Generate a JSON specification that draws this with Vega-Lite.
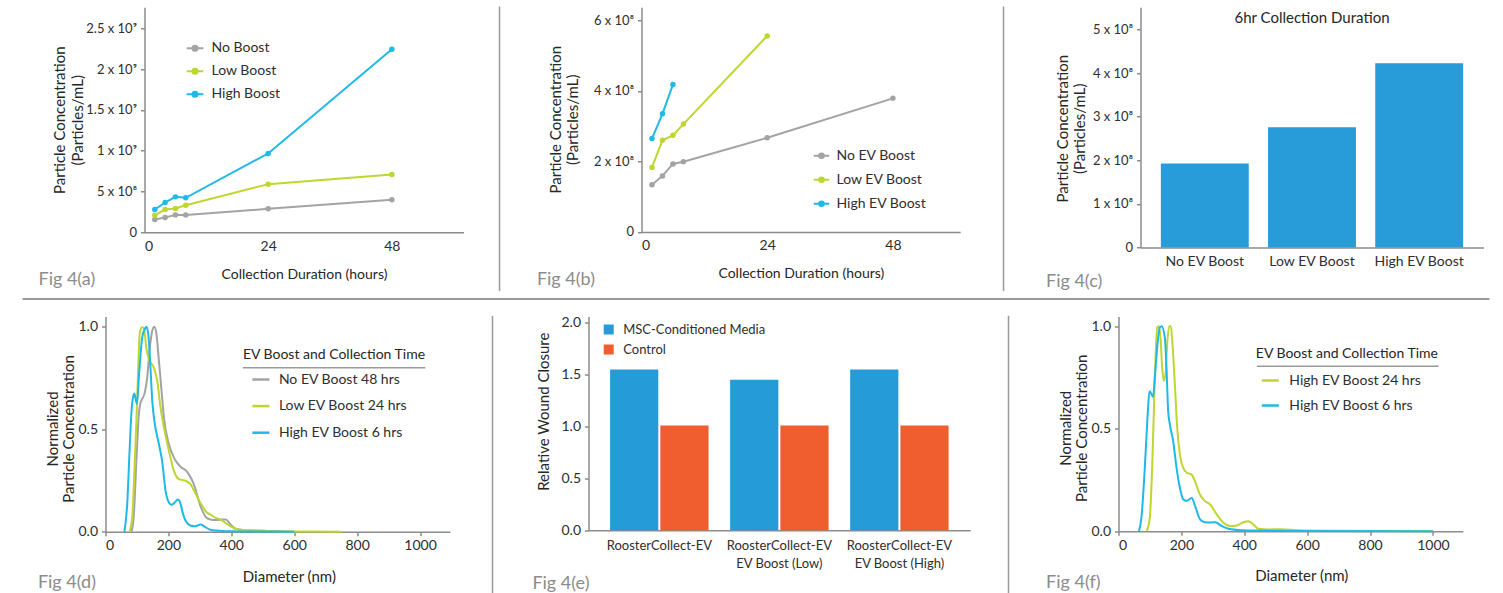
{
  "$schema": "https://vega.github.io/schema/vega-lite/v6.json",
  "padding": {"left": 22.5, "top": 6.25, "right": 5, "bottom": 0},
  "autosize": {"type": "pad"},
  "spacing": 6.75,
  "resolve": {"scale": {"color": "independent"}, "legend": {"color": "independent"}},
  "config": {
    "view": {"stroke": null},
    "font": "Lato",
    "axis": {"labelFont": "Lato", "titleFont": "Lato", "labelFontSize": 14, "titleFontSize": 15, "titleFontWeight": "normal", "labelColor": "#2e2e2e", "titleColor": "#262626", "domainColor": "#8c8c8c", "domainWidth": 1.5, "tickColor": "#8c8c8c", "tickWidth": 1.5, "tickSize": 4, "grid": false, "labelPadding": 4},
    "legend": {"labelFont": "Lato", "titleFont": "Lato", "labelFontSize": 14, "labelColor": "#2e2e2e", "titleColor": "#262626", "titleFontWeight": "normal", "titleFontSize": 14, "padding": 0, "titleLimit": 400, "labelLimit": 300},
    "title": {"font": "Lato", "fontWeight": "normal"}
  },
  "datasets": {
    "growthA": [
      {"series": "No Boost", "hours": 2, "conc": 156000000}, {"series": "No Boost", "hours": 4, "conc": 180000000}, {"series": "No Boost", "hours": 6, "conc": 213000000}, {"series": "No Boost", "hours": 8, "conc": 213000000}, {"series": "No Boost", "hours": 24, "conc": 287000000}, {"series": "No Boost", "hours": 48, "conc": 400000000},
      {"series": "Low Boost", "hours": 2, "conc": 209000000}, {"series": "Low Boost", "hours": 4, "conc": 279000000}, {"series": "Low Boost", "hours": 6, "conc": 291000000}, {"series": "Low Boost", "hours": 8, "conc": 332000000}, {"series": "Low Boost", "hours": 24, "conc": 590000000}, {"series": "Low Boost", "hours": 48, "conc": 709000000},
      {"series": "High Boost", "hours": 2, "conc": 279000000}, {"series": "High Boost", "hours": 4, "conc": 365000000}, {"series": "High Boost", "hours": 6, "conc": 434000000}, {"series": "High Boost", "hours": 8, "conc": 422000000}, {"series": "High Boost", "hours": 24, "conc": 967000000}, {"series": "High Boost", "hours": 48, "conc": 2246000000}
    ],
    "growthB": [
      {"series": "No EV Boost", "hours": 2, "conc": 134000000}, {"series": "No EV Boost", "hours": 4, "conc": 159000000}, {"series": "No EV Boost", "hours": 6, "conc": 193000000}, {"series": "No EV Boost", "hours": 8, "conc": 199000000}, {"series": "No EV Boost", "hours": 24, "conc": 267000000}, {"series": "No EV Boost", "hours": 48, "conc": 379000000},
      {"series": "Low EV Boost", "hours": 2, "conc": 183000000}, {"series": "Low EV Boost", "hours": 4, "conc": 260000000}, {"series": "Low EV Boost", "hours": 6, "conc": 274000000}, {"series": "Low EV Boost", "hours": 8, "conc": 306000000}, {"series": "Low EV Boost", "hours": 24, "conc": 556000000},
      {"series": "High EV Boost", "hours": 2, "conc": 265000000}, {"series": "High EV Boost", "hours": 4, "conc": 335000000}, {"series": "High EV Boost", "hours": 6, "conc": 418000000}
    ],
    "sixHour": [
      {"group": "No EV Boost", "conc": 192700000}, {"group": "Low EV Boost", "conc": 276000000}, {"group": "High EV Boost", "conc": 422700000}
    ],
    "ntaD": [
      {"series": "No EV Boost 48 hrs", "d": 83, "v": 0}, {"series": "No EV Boost 48 hrs", "d": 90, "v": 0.08}, {"series": "No EV Boost 48 hrs", "d": 98.7, "v": 0.362}, {"series": "No EV Boost 48 hrs", "d": 106, "v": 0.573}, {"series": "No EV Boost 48 hrs", "d": 111.5, "v": 0.63}, {"series": "No EV Boost 48 hrs", "d": 116.7, "v": 0.647}, {"series": "No EV Boost 48 hrs", "d": 125, "v": 0.68}, {"series": "No EV Boost 48 hrs", "d": 132.6, "v": 0.752}, {"series": "No EV Boost 48 hrs", "d": 140, "v": 0.883}, {"series": "No EV Boost 48 hrs", "d": 148.6, "v": 0.98}, {"series": "No EV Boost 48 hrs", "d": 155, "v": 1.0}, {"series": "No EV Boost 48 hrs", "d": 161.3, "v": 0.972}, {"series": "No EV Boost 48 hrs", "d": 169.8, "v": 0.834}, {"series": "No EV Boost 48 hrs", "d": 178.2, "v": 0.688}, {"series": "No EV Boost 48 hrs", "d": 185.7, "v": 0.557}, {"series": "No EV Boost 48 hrs", "d": 201.6, "v": 0.427}, {"series": "No EV Boost 48 hrs", "d": 217.5, "v": 0.362}, {"series": "No EV Boost 48 hrs", "d": 228, "v": 0.336}, {"series": "No EV Boost 48 hrs", "d": 240, "v": 0.315}, {"series": "No EV Boost 48 hrs", "d": 255, "v": 0.3}, {"series": "No EV Boost 48 hrs", "d": 265, "v": 0.28}, {"series": "No EV Boost 48 hrs", "d": 281, "v": 0.231}, {"series": "No EV Boost 48 hrs", "d": 302, "v": 0.125}, {"series": "No EV Boost 48 hrs", "d": 323.6, "v": 0.065}, {"series": "No EV Boost 48 hrs", "d": 340, "v": 0.058}, {"series": "No EV Boost 48 hrs", "d": 355, "v": 0.057}, {"series": "No EV Boost 48 hrs", "d": 370, "v": 0.06}, {"series": "No EV Boost 48 hrs", "d": 382, "v": 0.06}, {"series": "No EV Boost 48 hrs", "d": 397.7, "v": 0.036}, {"series": "No EV Boost 48 hrs", "d": 413.6, "v": 0.015}, {"series": "No EV Boost 48 hrs", "d": 440, "v": 0.008}, {"series": "No EV Boost 48 hrs", "d": 493, "v": 0.005}, {"series": "No EV Boost 48 hrs", "d": 600, "v": 0},
      {"series": "Low EV Boost 24 hrs", "d": 76, "v": 0}, {"series": "Low EV Boost 24 hrs", "d": 85, "v": 0.07}, {"series": "Low EV Boost 24 hrs", "d": 92.4, "v": 0.315}, {"series": "Low EV Boost 24 hrs", "d": 98.7, "v": 0.557}, {"series": "Low EV Boost 24 hrs", "d": 104, "v": 0.8}, {"series": "Low EV Boost 24 hrs", "d": 109.3, "v": 0.972}, {"series": "Low EV Boost 24 hrs", "d": 116.7, "v": 0.997}, {"series": "Low EV Boost 24 hrs", "d": 123, "v": 0.99}, {"series": "Low EV Boost 24 hrs", "d": 129.4, "v": 0.9}, {"series": "Low EV Boost 24 hrs", "d": 138, "v": 0.842}, {"series": "Low EV Boost 24 hrs", "d": 154, "v": 0.8}, {"series": "Low EV Boost 24 hrs", "d": 164.5, "v": 0.736}, {"series": "Low EV Boost 24 hrs", "d": 175, "v": 0.606}, {"series": "Low EV Boost 24 hrs", "d": 185.7, "v": 0.509}, {"series": "Low EV Boost 24 hrs", "d": 201.6, "v": 0.395}, {"series": "Low EV Boost 24 hrs", "d": 217.5, "v": 0.297}, {"series": "Low EV Boost 24 hrs", "d": 233.4, "v": 0.257}, {"series": "Low EV Boost 24 hrs", "d": 254.6, "v": 0.249}, {"series": "Low EV Boost 24 hrs", "d": 270, "v": 0.232}, {"series": "Low EV Boost 24 hrs", "d": 285, "v": 0.19}, {"series": "Low EV Boost 24 hrs", "d": 302, "v": 0.141}, {"series": "Low EV Boost 24 hrs", "d": 320, "v": 0.098}, {"series": "Low EV Boost 24 hrs", "d": 334, "v": 0.084}, {"series": "Low EV Boost 24 hrs", "d": 350, "v": 0.068}, {"series": "Low EV Boost 24 hrs", "d": 366, "v": 0.06}, {"series": "Low EV Boost 24 hrs", "d": 380, "v": 0.045}, {"series": "Low EV Boost 24 hrs", "d": 397.7, "v": 0.027}, {"series": "Low EV Boost 24 hrs", "d": 413.6, "v": 0.015}, {"series": "Low EV Boost 24 hrs", "d": 440, "v": 0.009}, {"series": "Low EV Boost 24 hrs", "d": 472, "v": 0.007}, {"series": "Low EV Boost 24 hrs", "d": 546, "v": 0.003}, {"series": "Low EV Boost 24 hrs", "d": 650, "v": 0.001}, {"series": "Low EV Boost 24 hrs", "d": 750, "v": 0},
      {"series": "High EV Boost 6 hrs", "d": 60, "v": 0}, {"series": "High EV Boost 6 hrs", "d": 69, "v": 0.135}, {"series": "High EV Boost 6 hrs", "d": 76.5, "v": 0.395}, {"series": "High EV Boost 6 hrs", "d": 82.8, "v": 0.59}, {"series": "High EV Boost 6 hrs", "d": 88, "v": 0.66}, {"series": "High EV Boost 6 hrs", "d": 92, "v": 0.675}, {"series": "High EV Boost 6 hrs", "d": 96, "v": 0.645}, {"series": "High EV Boost 6 hrs", "d": 100, "v": 0.625}, {"series": "High EV Boost 6 hrs", "d": 106, "v": 0.75}, {"series": "High EV Boost 6 hrs", "d": 116.7, "v": 0.948}, {"series": "High EV Boost 6 hrs", "d": 125, "v": 0.99}, {"series": "High EV Boost 6 hrs", "d": 130, "v": 1.0}, {"series": "High EV Boost 6 hrs", "d": 136, "v": 0.964}, {"series": "High EV Boost 6 hrs", "d": 143, "v": 0.8}, {"series": "High EV Boost 6 hrs", "d": 148.6, "v": 0.64}, {"series": "High EV Boost 6 hrs", "d": 154, "v": 0.557}, {"series": "High EV Boost 6 hrs", "d": 170, "v": 0.427}, {"series": "High EV Boost 6 hrs", "d": 180, "v": 0.346}, {"series": "High EV Boost 6 hrs", "d": 191, "v": 0.2}, {"series": "High EV Boost 6 hrs", "d": 202, "v": 0.142}, {"series": "High EV Boost 6 hrs", "d": 210, "v": 0.132}, {"series": "High EV Boost 6 hrs", "d": 218, "v": 0.14}, {"series": "High EV Boost 6 hrs", "d": 230, "v": 0.157}, {"series": "High EV Boost 6 hrs", "d": 238, "v": 0.14}, {"series": "High EV Boost 6 hrs", "d": 246, "v": 0.09}, {"series": "High EV Boost 6 hrs", "d": 256, "v": 0.05}, {"series": "High EV Boost 6 hrs", "d": 270, "v": 0.031}, {"series": "High EV Boost 6 hrs", "d": 285, "v": 0.027}, {"series": "High EV Boost 6 hrs", "d": 302, "v": 0.035}, {"series": "High EV Boost 6 hrs", "d": 315, "v": 0.025}, {"series": "High EV Boost 6 hrs", "d": 330, "v": 0.012}, {"series": "High EV Boost 6 hrs", "d": 350, "v": 0.006}, {"series": "High EV Boost 6 hrs", "d": 380, "v": 0.003}, {"series": "High EV Boost 6 hrs", "d": 420, "v": 0.002}, {"series": "High EV Boost 6 hrs", "d": 500, "v": 0.001}, {"series": "High EV Boost 6 hrs", "d": 600, "v": 0}
    ],
    "wound": [
      {"group": "RoosterCollect-EV", "treatment": "MSC-Conditioned Media", "closure": 1.55}, {"group": "RoosterCollect-EV", "treatment": "Control", "closure": 1.01},
      {"group": "RoosterCollect-EV EV Boost (Low)", "treatment": "MSC-Conditioned Media", "closure": 1.45}, {"group": "RoosterCollect-EV EV Boost (Low)", "treatment": "Control", "closure": 1.01},
      {"group": "RoosterCollect-EV EV Boost (High)", "treatment": "MSC-Conditioned Media", "closure": 1.55}, {"group": "RoosterCollect-EV EV Boost (High)", "treatment": "Control", "closure": 1.01}
    ],
    "ntaF": [
      {"series": "High EV Boost 24 hrs", "d": 90, "v": 0}, {"series": "High EV Boost 24 hrs", "d": 99.6, "v": 0.067}, {"series": "High EV Boost 24 hrs", "d": 107, "v": 0.31}, {"series": "High EV Boost 24 hrs", "d": 113.4, "v": 0.636}, {"series": "High EV Boost 24 hrs", "d": 118.7, "v": 0.88}, {"series": "High EV Boost 24 hrs", "d": 123, "v": 0.994}, {"series": "High EV Boost 24 hrs", "d": 128, "v": 1.0}, {"series": "High EV Boost 24 hrs", "d": 133.5, "v": 0.945}, {"series": "High EV Boost 24 hrs", "d": 138.8, "v": 0.8}, {"series": "High EV Boost 24 hrs", "d": 144.2, "v": 0.733}, {"series": "High EV Boost 24 hrs", "d": 149.5, "v": 0.767}, {"series": "High EV Boost 24 hrs", "d": 154.8, "v": 0.912}, {"series": "High EV Boost 24 hrs", "d": 161, "v": 1.0}, {"series": "High EV Boost 24 hrs", "d": 166.4, "v": 1.0}, {"series": "High EV Boost 24 hrs", "d": 171.7, "v": 0.912}, {"series": "High EV Boost 24 hrs", "d": 179.2, "v": 0.717}, {"series": "High EV Boost 24 hrs", "d": 186.6, "v": 0.506}, {"series": "High EV Boost 24 hrs", "d": 195, "v": 0.376}, {"series": "High EV Boost 24 hrs", "d": 205.6, "v": 0.31}, {"series": "High EV Boost 24 hrs", "d": 216.2, "v": 0.286}, {"series": "High EV Boost 24 hrs", "d": 232, "v": 0.277}, {"series": "High EV Boost 24 hrs", "d": 242.7, "v": 0.245}, {"series": "High EV Boost 24 hrs", "d": 258.6, "v": 0.18}, {"series": "High EV Boost 24 hrs", "d": 274.5, "v": 0.148}, {"series": "High EV Boost 24 hrs", "d": 291.5, "v": 0.13}, {"series": "High EV Boost 24 hrs", "d": 312.7, "v": 0.081}, {"series": "High EV Boost 24 hrs", "d": 333.9, "v": 0.041}, {"series": "High EV Boost 24 hrs", "d": 355, "v": 0.025}, {"series": "High EV Boost 24 hrs", "d": 376.3, "v": 0.028}, {"series": "High EV Boost 24 hrs", "d": 397.5, "v": 0.044}, {"series": "High EV Boost 24 hrs", "d": 413.4, "v": 0.049}, {"series": "High EV Boost 24 hrs", "d": 429.3, "v": 0.032}, {"series": "High EV Boost 24 hrs", "d": 445.2, "v": 0.012}, {"series": "High EV Boost 24 hrs", "d": 477, "v": 0.008}, {"series": "High EV Boost 24 hrs", "d": 519, "v": 0.01}, {"series": "High EV Boost 24 hrs", "d": 572, "v": 0.005}, {"series": "High EV Boost 24 hrs", "d": 700, "v": 0.002}, {"series": "High EV Boost 24 hrs", "d": 1000, "v": 0},
      {"series": "High EV Boost 6 hrs", "d": 65, "v": 0}, {"series": "High EV Boost 6 hrs", "d": 73, "v": 0.067}, {"series": "High EV Boost 6 hrs", "d": 83.7, "v": 0.31}, {"series": "High EV Boost 6 hrs", "d": 92.2, "v": 0.554}, {"series": "High EV Boost 6 hrs", "d": 98.5, "v": 0.682}, {"series": "High EV Boost 6 hrs", "d": 104.9, "v": 0.668}, {"series": "High EV Boost 6 hrs", "d": 110, "v": 0.655}, {"series": "High EV Boost 6 hrs", "d": 115.5, "v": 0.75}, {"series": "High EV Boost 6 hrs", "d": 124, "v": 0.912}, {"series": "High EV Boost 6 hrs", "d": 131.4, "v": 0.994}, {"series": "High EV Boost 6 hrs", "d": 137, "v": 1.0}, {"series": "High EV Boost 6 hrs", "d": 147.3, "v": 0.945}, {"series": "High EV Boost 6 hrs", "d": 152.6, "v": 0.8}, {"series": "High EV Boost 6 hrs", "d": 157.9, "v": 0.587}, {"series": "High EV Boost 6 hrs", "d": 163.2, "v": 0.522}, {"series": "High EV Boost 6 hrs", "d": 173.8, "v": 0.44}, {"series": "High EV Boost 6 hrs", "d": 184.4, "v": 0.311}, {"series": "High EV Boost 6 hrs", "d": 195, "v": 0.213}, {"series": "High EV Boost 6 hrs", "d": 205.6, "v": 0.156}, {"series": "High EV Boost 6 hrs", "d": 216.2, "v": 0.148}, {"series": "High EV Boost 6 hrs", "d": 233, "v": 0.162}, {"series": "High EV Boost 6 hrs", "d": 243.8, "v": 0.122}, {"series": "High EV Boost 6 hrs", "d": 259.7, "v": 0.057}, {"series": "High EV Boost 6 hrs", "d": 275, "v": 0.044}, {"series": "High EV Boost 6 hrs", "d": 295, "v": 0.043}, {"series": "High EV Boost 6 hrs", "d": 307, "v": 0.044}, {"series": "High EV Boost 6 hrs", "d": 328.6, "v": 0.025}, {"series": "High EV Boost 6 hrs", "d": 349.8, "v": 0.012}, {"series": "High EV Boost 6 hrs", "d": 392, "v": 0.005}, {"series": "High EV Boost 6 hrs", "d": 445, "v": 0.003}, {"series": "High EV Boost 6 hrs", "d": 600, "v": 0.001}, {"series": "High EV Boost 6 hrs", "d": 1000, "v": 0}
    ]
  },
  "vconcat": [
    {
      "bounds": "flush",
      "spacing": 0,
      "resolve": {"scale": {"color": "independent"}, "legend": {"color": "independent"}},
      "hconcat": [
        {"width": 121, "height": 1, "data": {"values": [{}]}, "mark": {"type": "rect", "opacity": 0}, "encoding": {}},
        {
          "width": 319, "height": 225,
          "data": {"name": "growthA"},
          "title": {"text": "Fig 4(a)", "orient": "bottom", "anchor": "start", "frame": "group", "dx": -106, "offset": -10, "color": "#8c8c8c", "fontSize": 18, "fontWeight": "normal"},
          "mark": {"type": "line", "strokeWidth": 2, "point": {"filled": true, "size": 30}},
          "encoding": {
            "x": {"field": "hours", "type": "quantitative", "scale": {"domain": [0, 61.9], "nice": false},
              "axis": {"values": [0, 24, 48], "ticks": false, "labelPadding": 7, "title": "Collection Duration (hours)", "titleY": 42, "titleBaseline": "middle", "titleFontSize": 14}},
            "y": {"field": "conc", "type": "quantitative", "scale": {"domain": [0, 2760000000], "nice": false},
              "axis": {"values": [0, 500000000, 1000000000, 1500000000, 2000000000, 2500000000], "labelFontSize": 13,
                "labelExpr": "datum.value == 0 ? '0' : (datum.value >= 1000000000 ? (datum.value / 1000000000) + ' x 10⁹' : (datum.value / 100000000) + ' x 10⁸')",
                "title": ["Particle Concentration", "(Particles/mL)"], "titleX": -85, "titleY": 112.5, "titleBaseline": "middle", "titleLineHeight": 18}},
            "color": {"field": "series", "type": "nominal", "scale": {"domain": ["No Boost", "Low Boost", "High Boost"], "range": ["#a3a3a3", "#bfd630", "#1fb9e9"]},
              "legend": {"title": null, "orient": "none", "legendX": 41, "legendY": 31.5, "symbolType": "M-1,0L1,0M-0.3,0A0.3,0.3,0,1,0,0.3,0A0.3,0.3,0,1,0,-0.3,0Z", "symbolSize": 280, "symbolStrokeWidth": 2, "labelOffset": 7, "rowPadding": 6}}
          }
        },
        {"width": 36, "height": 1, "data": {"values": [{}]}, "mark": {"type": "rect", "opacity": 0}, "encoding": {}},
        {"width": 0.01, "height": 283, "view": {"stroke": "#9a9a9a", "strokeWidth": 1.5}, "data": {"values": [{}]}, "mark": {"type": "rect", "opacity": 0}, "encoding": {}},
        {"width": 140.3, "height": 1, "data": {"values": [{}]}, "mark": {"type": "rect", "opacity": 0}, "encoding": {}},
        {
          "width": 318.7, "height": 224.7,
          "data": {"name": "growthB"},
          "title": {"text": "Fig 4(b)", "orient": "bottom", "anchor": "start", "frame": "group", "dx": -104.6, "offset": -10, "color": "#8c8c8c", "fontSize": 18, "fontWeight": "normal"},
          "mark": {"type": "line", "strokeWidth": 2, "point": {"filled": true, "size": 30}},
          "encoding": {
            "x": {"field": "hours", "type": "quantitative", "scale": {"domain": [0, 60.85], "nice": false},
              "axis": {"values": [0, 24, 48], "ticks": false, "labelPadding": 7, "title": "Collection Duration (hours)", "titleY": 42, "titleBaseline": "middle", "titleFontSize": 14}},
            "y": {"field": "conc", "type": "quantitative", "scale": {"domain": [0, 637400000], "nice": false},
              "axis": {"values": [0, 200000000, 400000000, 600000000], "labelFontSize": 13,
                "labelExpr": "datum.value == 0 ? '0' : (datum.value / 100000000) + ' x 10⁸'",
                "title": ["Particle Concentration", "(Particles/mL)"], "titleX": -86.3, "titleY": 112, "titleBaseline": "middle", "titleLineHeight": 17}},
            "color": {"field": "series", "type": "nominal", "scale": {"domain": ["No EV Boost", "Low EV Boost", "High EV Boost"], "range": ["#a3a3a3", "#bfd630", "#1fb9e9"]},
              "legend": {"title": null, "orient": "none", "legendX": 171, "legendY": 139.5, "symbolType": "M-1,0L1,0M-0.3,0A0.3,0.3,0,1,0,0.3,0A0.3,0.3,0,1,0,-0.3,0Z", "symbolSize": 240, "symbolStrokeWidth": 2, "labelOffset": 6, "rowPadding": 8}}
          }
        },
        {"width": 43, "height": 1, "data": {"values": [{}]}, "mark": {"type": "rect", "opacity": 0}, "encoding": {}},
        {"width": 0.01, "height": 283, "view": {"stroke": "#9a9a9a", "strokeWidth": 1.5}, "data": {"values": [{}]}, "mark": {"type": "rect", "opacity": 0}, "encoding": {}},
        {"width": 136, "height": 1, "data": {"values": [{}]}, "mark": {"type": "rect", "opacity": 0}, "encoding": {}},
        {
          "width": 343, "height": 240.3,
          "data": {"name": "sixHour"},
          "title": {"text": "6hr Collection Duration", "orient": "top", "anchor": "middle", "frame": "group", "offset": -19, "color": "#262626", "fontSize": 15, "fontWeight": "normal"},
          "mark": {"type": "bar", "color": "#279cd8"},
          "encoding": {
            "x": {"field": "group", "type": "nominal", "sort": ["No EV Boost", "Low EV Boost", "High EV Boost"], "scale": {"paddingInner": 0.18, "paddingOuter": 0.19},
              "axis": {"labelAngle": 0, "ticks": false, "labelPadding": 7, "title": "Fig 4(c)", "titleX": -95, "titleY": 33.7, "titleAlign": "left", "titleBaseline": "middle", "titleColor": "#8c8c8c", "titleFontSize": 18}},
            "y": {"field": "conc", "type": "quantitative", "scale": {"domain": [0, 551000000], "nice": false},
              "axis": {"values": [0, 100000000, 200000000, 300000000, 400000000, 500000000], "labelFontSize": 13,
                "labelExpr": "datum.value == 0 ? '0' : (datum.value / 100000000) + ' x 10⁸'",
                "title": ["Particle Concentration", "(Particles/mL)"], "titleX": -77.7, "titleY": 121, "titleBaseline": "middle", "titleLineHeight": 17}}
          }
        }
      ]
    },
    {
      "bounds": "flush",
      "spacing": 16.5,
      "resolve": {"scale": {"color": "independent"}, "legend": {"color": "independent"}},
      "vconcat": [
        {"width": 1465, "height": 0.01, "view": {"stroke": "#9a9a9a", "strokeWidth": 2}, "data": {"values": [{}]}, "mark": {"type": "rect", "opacity": 0}, "encoding": {}},
        {
          "bounds": "flush",
          "spacing": 0,
          "resolve": {"scale": {"color": "independent"}, "legend": {"color": "independent"}},
          "hconcat": [
            {"width": 81.8, "height": 1, "data": {"values": [{}]}, "mark": {"type": "rect", "opacity": 0}, "encoding": {}},
            {
              "width": 344.4, "height": 215.3,
              "title": {"text": "Fig 4(d)", "orient": "bottom", "anchor": "start", "frame": "group", "dx": -67.6, "offset": -10, "color": "#8c8c8c", "fontSize": 18, "fontWeight": "normal"},
              "layer": [
                {
                  "data": {"name": "ntaD"},
                  "mark": {"type": "line", "interpolate": "monotone", "strokeWidth": 2},
                  "encoding": {
                    "x": {"field": "d", "type": "quantitative", "scale": {"domain": [0, 1095], "nice": false},
                      "axis": {"values": [0, 200, 400, 600, 800, 1000], "format": "d", "labelPadding": 3, "title": "Diameter (nm)", "titleX": 183.4, "titleY": 44.4, "titleBaseline": "middle"}},
                    "y": {"field": "v", "type": "quantitative", "scale": {"domain": [0, 1.05], "nice": false},
                      "axis": {"values": [0, 0.5, 1], "format": ".1f", "title": ["Normalized", "Particle Concentration"], "titleX": -53.3, "titleY": 112, "titleBaseline": "middle", "titleLineHeight": 16.6}},
                    "color": {"field": "series", "type": "nominal", "scale": {"domain": ["No EV Boost 48 hrs", "Low EV Boost 24 hrs", "High EV Boost 6 hrs"], "range": ["#a3a3a3", "#bfd630", "#1fb9e9"]},
                      "legend": {"title": "EV Boost and Collection Time", "orient": "none", "legendX": 137.4, "legendY": 31.5, "symbolType": "stroke", "symbolSize": 290, "symbolStrokeWidth": 2.5, "symbolOffset": 8, "labelOffset": 8, "rowPadding": 9.6, "titlePadding": 7.5}}
                  }
                },
                {
                  "data": {"values": [{}]},
                  "mark": {"type": "rule", "color": "#9a9a9a", "strokeWidth": 1.5},
                  "encoding": {"x": {"datum": 437}, "x2": {"datum": 1017}, "y": {"datum": 0.8}}
                }
              ]
            },
            {"width": 41.3, "height": 1, "data": {"values": [{}]}, "mark": {"type": "rect", "opacity": 0}, "encoding": {}},
            {"width": 0.01, "height": 276, "view": {"stroke": "#9a9a9a", "strokeWidth": 1.5}, "data": {"values": [{}]}, "mark": {"type": "rect", "opacity": 0}, "encoding": {}},
            {"width": 94.3, "height": 1, "data": {"values": [{}]}, "mark": {"type": "rect", "opacity": 0}, "encoding": {}},
            {
              "width": 381.7, "height": 213.7,
              "data": {"name": "wound"},
              "mark": {"type": "bar"},
              "encoding": {
                "x": {"field": "group", "type": "nominal", "sort": ["RoosterCollect-EV", "RoosterCollect-EV EV Boost (Low)", "RoosterCollect-EV EV Boost (High)"], "scale": {"paddingInner": 0.18, "paddingOuter": 0.18},
                  "axis": {"labelAngle": 0, "ticks": false, "labelPadding": 9, "labelFontSize": 13, "labelLineHeight": 18,
                    "labelExpr": "length(datum.label) > 18 ? ['RoosterCollect-EV', substring(datum.label, 18)] : datum.label",
                    "title": "Fig 4(e)", "titleX": -56.6, "titleY": 53.3, "titleAlign": "left", "titleBaseline": "middle", "titleColor": "#8c8c8c", "titleFontSize": 18}},
                "xOffset": {"field": "treatment", "type": "nominal", "sort": ["MSC-Conditioned Media", "Control"], "scale": {"paddingInner": 0.04}},
                "y": {"field": "closure", "type": "quantitative", "scale": {"domain": [0, 2.061], "nice": false},
                  "axis": {"values": [0, 0.5, 1, 1.5, 2], "format": ".1f", "title": "Relative Wound Closure", "titleX": -45, "titleY": 94.7, "titleBaseline": "middle"}},
                "color": {"field": "treatment", "type": "nominal", "scale": {"domain": ["MSC-Conditioned Media", "Control"], "range": ["#259cd8", "#f05d2e"]},
                  "legend": {"title": null, "orient": "none", "legendX": 13.7, "legendY": 6.5, "symbolType": "square", "symbolSize": 100, "symbolStrokeWidth": 0, "symbolOpacity": 1, "labelOffset": 8, "rowPadding": 6, "labelFontSize": 13}}
              }
            },
            {"width": 38, "height": 1, "data": {"values": [{}]}, "mark": {"type": "rect", "opacity": 0}, "encoding": {}},
            {"width": 0.01, "height": 276, "view": {"stroke": "#9a9a9a", "strokeWidth": 1.5}, "data": {"values": [{}]}, "mark": {"type": "rect", "opacity": 0}, "encoding": {}},
            {"width": 108.7, "height": 1, "data": {"values": [{}]}, "mark": {"type": "rect", "opacity": 0}, "encoding": {}},
            {
              "width": 344.3, "height": 214.7,
              "title": {"text": "Fig 4(f)", "orient": "bottom", "anchor": "start", "frame": "group", "dx": -72.4, "offset": -10, "color": "#8c8c8c", "fontSize": 18, "fontWeight": "normal"},
              "layer": [
                {
                  "data": {"name": "ntaF"},
                  "mark": {"type": "line", "interpolate": "monotone", "strokeWidth": 2},
                  "encoding": {
                    "x": {"field": "d", "type": "quantitative", "scale": {"domain": [0, 1095], "nice": false},
                      "axis": {"values": [0, 200, 400, 600, 800, 1000], "format": "d", "labelPadding": 3, "title": "Diameter (nm)", "titleX": 182.8, "titleY": 44.4, "titleBaseline": "middle"}},
                    "y": {"field": "v", "type": "quantitative", "scale": {"domain": [0, 1.047], "nice": false},
                      "axis": {"values": [0, 0.5, 1], "format": ".1f", "title": ["Normalized", "Particle Concentration"], "titleX": -53.3, "titleY": 111.3, "titleBaseline": "middle", "titleLineHeight": 16.6}},
                    "color": {"field": "series", "type": "nominal", "scale": {"domain": ["High EV Boost 24 hrs", "High EV Boost 6 hrs"], "range": ["#bfd630", "#1fb9e9"]},
                      "legend": {"title": "EV Boost and Collection Time", "orient": "none", "legendX": 137.3, "legendY": 30, "symbolType": "stroke", "symbolSize": 290, "symbolStrokeWidth": 2.5, "symbolOffset": 4.5, "labelOffset": 9, "rowPadding": 8, "titlePadding": 10}}
                  }
                },
                {
                  "data": {"values": [{}]},
                  "mark": {"type": "rule", "color": "#9a9a9a", "strokeWidth": 1.5},
                  "encoding": {"x": {"datum": 440}, "x2": {"datum": 1018}, "y": {"datum": 0.805}}
                }
              ]
            }
          ]
        }
      ]
    }
  ]
}
